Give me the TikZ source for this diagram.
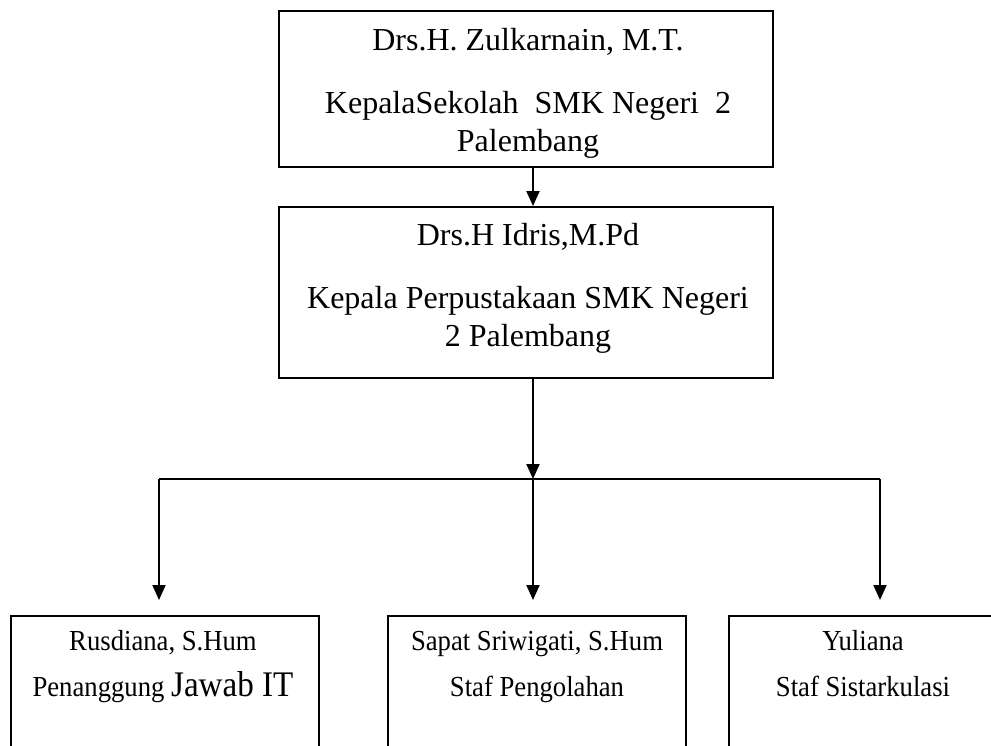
\documentclass[tikz,border=0pt]{standalone}
\usepackage{fontspec}
\setmainfont{Liberation Serif}
\usetikzlibrary{arrows.meta}
\begin{document}
\begin{tikzpicture}[x=1pt,y=-1pt,
  box/.style={draw,line width=2pt,inner sep=0pt},
  line/.style={line width=2pt},
  conn/.style={line width=2pt,-{Triangle[width=13pt,length=15pt]}},
  bigtxt/.style={anchor=base,inner sep=0pt,font=\fontsize{32}{38}\selectfont},
  smalltxt/.style={anchor=base,inner sep=0pt,font=\fontsize{29}{40}\selectfont}]
\useasboundingbox (0,0) rectangle (991,745);
\clip (0,0) rectangle (991,745);
% top boxes
\node[box,minimum width=494pt,minimum height=156pt] (kepsek) at (526,89) {};
\node[bigtxt] (kepsektxt) at (528,50) {\begin{tabular}[t]{@{}c@{}}Drs.H. Zulkarnain, M.T.\\[25pt]KepalaSekolah\ \ SMK Negeri\ \ 2\\Palembang\end{tabular}};
\node[box,minimum width=494pt,minimum height=171pt] (kapus) at (526,292.5) {};
\node[bigtxt] (kapustxt) at (528,245) {\begin{tabular}[t]{@{}c@{}}Drs.H Idris,M.Pd\\[25pt]Kepala Perpustakaan SMK Negeri\\2 Palembang\end{tabular}};
% bottom boxes
\node[box,minimum width=308pt,minimum height=200pt,anchor=north west] (staf1) at (9.5,615) {};
\node[smalltxt] (staf1txt) at (163,650) {\scalebox{0.92}[1]{\begin{tabular}[t]{@{}c@{}}Rusdiana, S.Hum\\[6pt]Penanggung {\fontsize{36}{40}\selectfont Jawab IT}\end{tabular}}};
\node[box,minimum width=298pt,minimum height=200pt,anchor=north west] (staf2) at (387,615) {};
\node[smalltxt] (staf2txt) at (537,650) {\scalebox{0.92}[1]{\begin{tabular}[t]{@{}c@{}}Sapat Sriwigati, S.Hum\\[6pt]Staf Pengolahan\end{tabular}}};
\node[box,minimum width=275pt,minimum height=200pt,anchor=north west] (staf3) at (728,615) {};
\node[smalltxt] (staf3txt) at (863,650) {\scalebox{0.92}[1]{\begin{tabular}[t]{@{}c@{}}Yuliana\\[6pt]Staf Sistarkulasi\end{tabular}}};
% connectors
\coordinate (j) at (533,479);
\coordinate (jl) at (159,479);
\coordinate (jr) at (880,479);
\draw[conn] (kepsek.south -| j) -- (kapus.north -| j);
\draw[conn] (kapus.south -| j) -- (j);
\draw[line] (jl) -- (jr);
\draw[conn] (jl) -- ([yshift=15pt]staf1.north -| jl);
\draw[conn] (j) -- ([yshift=15pt]staf2.north -| j);
\draw[conn] (jr) -- ([yshift=15pt]staf3.north -| jr);
\end{tikzpicture}
\end{document}
